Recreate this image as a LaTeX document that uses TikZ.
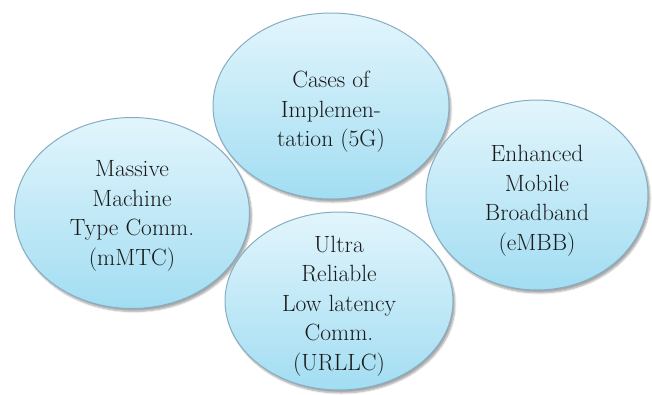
\documentclass[tikz,border=0pt]{standalone}
\usetikzlibrary{shapes.geometric,shadows.blur}
\definecolor{elltop}{HTML}{E2F5FC}
\definecolor{ellbot}{HTML}{A2DDF2}
\definecolor{ellline}{HTML}{86ADC2}
\definecolor{txt}{HTML}{1A1A1A}
\tikzset{
  bubble/.style={ellipse, inner sep=0pt, top color=elltop, bottom color=ellbot,
    blur shadow={shadow xshift=2pt, shadow yshift=-3pt, shadow blur steps=6, shadow opacity=35}},
  rim/.style={ellipse, inner sep=0pt, draw=ellline, line width=1pt},
  bubbletext/.style={align=center, text=txt, font=\rmfamily\fontsize{23.5}{29.5}\selectfont}
}
\begin{document}
\begin{tikzpicture}[x=1pt,y=-1pt]
\useasboundingbox (0,0) rectangle (652,394);
% fills
\node[bubble, minimum width=235pt, minimum height=191pt] (mm) at (132,213) {};
\node[bubble, minimum width=236pt, minimum height=186pt] (ci) at (331,106) {};
\node[bubble, minimum width=222pt, minimum height=190pt] (em) at (537,195) {};
\node[bubble, minimum width=228pt, minimum height=178pt] (ur) at (339,301) {};
% outlines
\node[rim, minimum width=235pt, minimum height=191pt] at (mm) {};
\node[rim, minimum width=236pt, minimum height=186pt] at (ci) {};
\node[rim, minimum width=222pt, minimum height=190pt] at (em) {};
\node[rim, minimum width=228pt, minimum height=178pt] at (ur) {};
% texts
\node[bubbletext] (tci) at (331,112) {Cases of\\Implemen-\\tation (5G)};
\node[bubbletext] (tmm) at (132,216) {Massive\\Machine\\Type Comm.\\(mMTC)};
\node[bubbletext] (tem) at (537,201) {Enhanced\\Mobile\\Broadband\\(eMBB)};
\node[bubbletext] (tur) at (339,306) {Ultra\\Reliable\\Low latency\\Comm.\\(URLLC)};
\end{tikzpicture}
\end{document}
